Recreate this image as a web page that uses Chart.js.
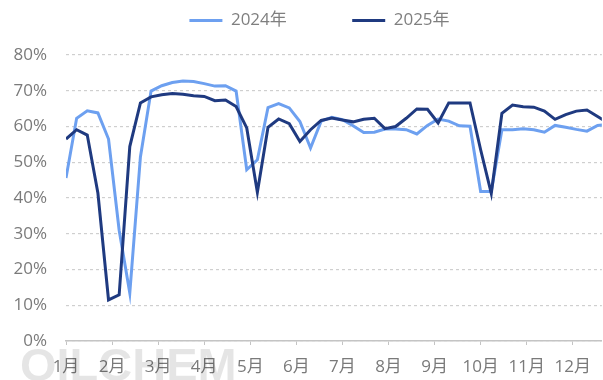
<!DOCTYPE html>
<html>
<head>
<meta charset="utf-8">
<script src="https://cdn.jsdelivr.net/npm/chart.js@4.4.1/dist/chart.umd.min.js"></script>
<style>
html,body{margin:0;padding:0;background:#ffffff;}
#c{display:block;}
</style>
</head>
<body>
<canvas id="c" width="603" height="380"></canvas>
<script>
// ---- data (weekly operating rate, %) ----
const monthLabels = ['1月','2月','3月','4月','5月','6月','7月','8月','9月','10月','11月','12月'];
const seriesNames = ['2024年','2025年'];
const values2024 = [45.6,62.3,64.4,63.8,56.5,31.0,13.4,51.5,69.9,71.4,72.3,72.7,72.6,72.0,71.3,71.4,69.9,47.9,50.7,65.3,66.4,65.2,61.4,54.0,61.5,62.6,61.9,60.2,58.3,58.4,59.3,59.3,59.1,57.9,60.3,62.1,61.5,60.2,60.1,41.8,41.8,59.1,59.1,59.4,59.1,58.4,60.3,59.8,59.2,58.7,60.3,60.6];
const values2025 = [56.5,59.1,57.6,41.4,11.5,12.9,54.4,66.6,68.3,68.9,69.2,69.0,68.6,68.4,67.2,67.4,65.6,59.6,41.6,59.8,62.1,60.8,55.8,59.1,61.7,62.4,61.8,61.3,62.0,62.3,59.4,60.0,62.3,64.9,64.8,61.0,66.6,66.6,66.6,53.5,41.3,63.7,66.0,65.5,65.4,64.3,62.0,63.3,64.3,64.6,62.8,61.0];
const yMin = 0, yMax = 80, yStep = 10;

const colors = ['#6da0f0', '#1f3a80'];
const FONT = "'Open Sans', 'Noto Sans CJK SC', sans-serif";
const WEEKS_PER_MONTH = 52 / 12;

const toPoints = arr => arr.map((v, i) => ({x: i, y: v}));

const watermark = {
  id: 'watermark',
  beforeDatasetsDraw(chart) {
    const ctx = chart.ctx;
    ctx.save();
    ctx.font = "bold 47px 'Liberation Sans', sans-serif";
    ctx.fillStyle = 'rgba(0,0,0,0.10)';
    ctx.textBaseline = 'alphabetic';
    ctx.textAlign = 'left';
    ctx.fillText('OILCHEM', 20, 381);
    ctx.restore();
  }
};

// extra space under the legend, and shift its row slightly right of centre
const legendTweak = {
  id: 'legendTweak',
  afterInit(chart) {
    const lg = chart.legend;
    if (!lg) return;
    const fit = lg.fit;
    lg.fit = function () {
      fit.call(this);
      this.height += 16;
      if (this.lineWidths && this.lineWidths.length) this.lineWidths[0] -= 36;
    };
  }
};

new Chart(document.getElementById('c'), {
  type: 'line',
  data: {
    datasets: [
      {label: seriesNames[0], data: toPoints(values2024), borderColor: colors[0], backgroundColor: colors[0], borderWidth: 3, pointRadius: 0, tension: 0, order: 1},
      {label: seriesNames[1], data: toPoints(values2025), borderColor: colors[1], backgroundColor: colors[1], borderWidth: 3, pointRadius: 0, tension: 0, order: 0}
    ]
  },
  plugins: [watermark, legendTweak],
  options: {
    responsive: false,
    animation: false,
    devicePixelRatio: 1,
    layout: {padding: {left: 0, top: 2, right: 0, bottom: 0}},
    plugins: {
      tooltip: {enabled: false},
      legend: {
        position: 'top',
        align: 'center',
        labels: {
          boxWidth: 33,
          boxHeight: 3,
          padding: 10,
          color: '#7f7f7f',
          font: {family: FONT, size: 17},
          sort: (a, b) => a.datasetIndex - b.datasetIndex,
          generateLabels(chart) {
            const items = Chart.defaults.plugins.legend.labels.generateLabels(chart);
            items.forEach(it => {
              it.lineWidth = 0;
              if (it.datasetIndex === 0) it.text = it.text + '\u3000\u3000\u3000 ';
            });
            return items;
          }
        }
      }
    },
    scales: {
      x: {
        type: 'linear',
        min: 0,
        max: 50.4,
        afterBuildTicks(scale) {
          scale.ticks = monthLabels.map((_, i) => ({value: i * WEEKS_PER_MONTH}));
        },
        afterFit(scale) { scale.height = 39; },
        ticks: {
          autoSkip: false,
          maxRotation: 0,
          padding: 12,
          color: '#7a7a7a',
          font: {family: FONT, size: 17},
          callback: (v, i) => monthLabels[i]
        },
        grid: {display: true, drawOnChartArea: false, drawTicks: true, tickLength: 4, color: '#c4c4c4', lineWidth: 1},
        border: {display: true, color: '#c4c4c4', width: 1.5}
      },
      y: {
        min: yMin,
        max: yMax,
        afterFit(scale) { scale.width = 66; },
        ticks: {
          stepSize: yStep,
          padding: 19,
          color: '#7a7a7a',
          font: {family: FONT, size: 17},
          callback: v => v + '%'
        },
        grid: {color: '#cfcfcf', lineWidth: 1.2, drawTicks: false},
        border: {display: false, dash: [3, 3]}
      }
    }
  }
});
</script>
</body>
</html>
